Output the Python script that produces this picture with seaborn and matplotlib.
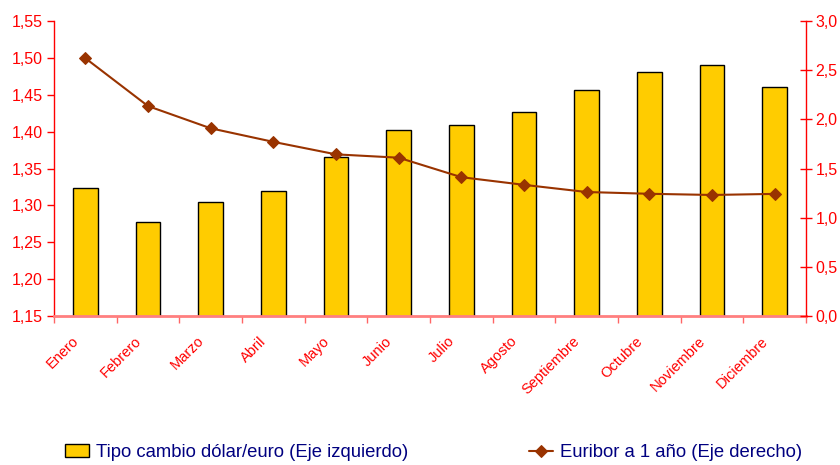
import numpy as np
import pandas as pd
import matplotlib
matplotlib.use("Agg")
import matplotlib.pyplot as plt
import matplotlib.transforms as mtransforms
import seaborn as sns
from matplotlib.ticker import FuncFormatter, MultipleLocator

meses = ["Enero", "Febrero", "Marzo", "Abril", "Mayo", "Junio", "Julio",
         "Agosto", "Septiembre", "Octubre", "Noviembre", "Diciembre"]
tipo_cambio = [1.324, 1.278, 1.305, 1.319, 1.365, 1.402, 1.409, 1.427,
               1.456, 1.481, 1.491, 1.461]
euribor = [2.622, 2.135, 1.909, 1.771, 1.644, 1.610, 1.412, 1.334,
           1.261, 1.243, 1.231, 1.242]

sns.set_theme(style="white")
plt.rcParams["font.family"] = ["Liberation Sans", "DejaVu Sans"]

RED = "#FF0000"
BAR = "#FFCC00"
LINE = "#993300"
NAVY = "#000080"

df = pd.DataFrame({"mes": meses, "cambio": tipo_cambio,
                   "euribor": euribor, "pos": np.arange(len(meses))})

fig = plt.figure(figsize=(8.4, 4.65), dpi=100)
ax = fig.add_axes([0.0643, 0.3204, 0.9595 - 0.0643, 0.9548 - 0.3204])

sns.barplot(data=df, x="mes", y="cambio", ax=ax, color=BAR, saturation=1,
            width=0.39, edgecolor="black", linewidth=1.0,
            label="Tipo cambio dólar/euro (Eje izquierdo)")
ax.set_xlim(-0.5, len(meses) - 0.5)
ax.set_ylim(1.15, 1.55)
ax.yaxis.set_major_locator(MultipleLocator(0.05))
ax.yaxis.set_major_formatter(FuncFormatter(lambda v, p: f"{v:.2f}".replace(".", ",")))
ax.set_xlabel("")
ax.set_ylabel("")

ax2 = ax.twinx()
sns.lineplot(data=df, x="pos", y="euribor", ax=ax2, color=LINE, linewidth=1.5,
             marker="D", markersize=6, markeredgecolor=LINE,
             label="Euribor a 1 año (Eje derecho)", legend=False)
ax2.set_ylim(0, 3.0)
ax2.yaxis.set_major_locator(MultipleLocator(0.5))
ax2.yaxis.set_major_formatter(FuncFormatter(lambda v, p: f"{v:.1f}".replace(".", ",")))
ax2.set_ylabel("")
ax2.set_xlabel("")
ax2.set_xlim(-0.5, len(meses) - 0.5)

# Category labels centred on bars, tick marks on the category boundaries
ax.set_xticks(np.arange(len(meses)))
ax.set_xticklabels(meses, rotation=45, ha="right", rotation_mode="anchor",
                   color=RED, fontsize=10.5)
ax.set_xticks(np.arange(len(meses) + 1) - 0.5, minor=True)
ax.tick_params(axis="x", which="major", length=0, pad=10)
ax.tick_params(axis="x", which="minor", length=5, width=1, color="#FF6666",
               direction="out", bottom=True)
ax.tick_params(axis="y", which="major", length=5, width=1, color=RED,
               direction="out", labelcolor=RED, labelsize=11.5, left=True, pad=3)
ax2.tick_params(axis="y", which="major", length=8, width=1, color=RED,
                direction="inout", labelcolor=RED, labelsize=11.5, right=True, pad=3)

# Nudge the rotated month labels left/down (after tick_params, which resets transforms)
shift = mtransforms.ScaledTranslation(-14 / 100, -4 / 100, fig.dpi_scale_trans)
for lbl in ax.get_xticklabels():
    lbl.set_transform(lbl.get_transform() + shift)

for a in (ax, ax2):
    for s in a.spines.values():
        s.set_visible(False)
ax.spines["left"].set_visible(True)
ax.spines["left"].set_color(RED)
ax.spines["left"].set_linewidth(1)
ax.spines["bottom"].set_visible(True)
ax.spines["bottom"].set_color("#FF7F7F")
ax.spines["bottom"].set_linewidth(2)
ax2.spines["right"].set_visible(True)
ax2.spines["right"].set_color(RED)
ax2.spines["right"].set_linewidth(1)
ax.grid(False)
ax2.grid(False)

h1, l1 = ax.get_legend_handles_labels()
h2, l2 = ax2.get_legend_handles_labels()
leg = fig.legend(h1 + h2, l1 + l2, loc="center", ncol=2,
                 bbox_to_anchor=(0.516, 0.026), frameon=False, fontsize=13.3,
                 columnspacing=6.5, handlelength=1.3, handletextpad=0.4,
                 labelcolor=NAVY)
if ax.get_legend() is not None:
    ax.get_legend().remove()

fig.savefig("out.png", dpi=100)
